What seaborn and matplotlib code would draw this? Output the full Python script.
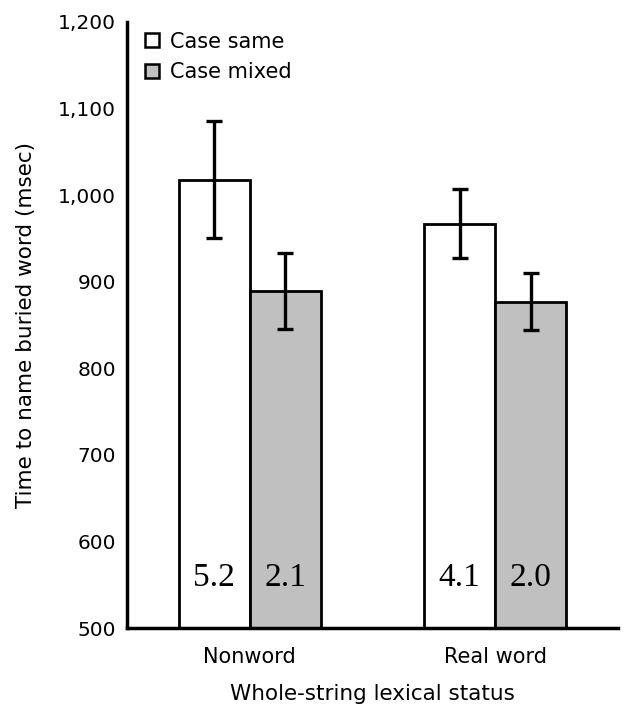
import matplotlib
matplotlib.use("Agg")
import matplotlib.pyplot as plt
import seaborn as sns
import pandas as pd
from matplotlib.patches import Patch

categories = ["Nonword", "Real word"]
conditions = ["Case same", "Case mixed"]
same_means = [1018, 967]
same_err = [68, 40]
mixed_means = [889, 877]
mixed_err = [44, 33]
same_labels = ["5.2", "4.1"]
mixed_labels = ["2.1", "2.0"]
yticks = [500, 600, 700, 800, 900, 1000, 1100, 1200]
ytick_labels = ["500", "600", "700", "800", "900", "1,000", "1,100", "1,200"]

df = pd.DataFrame({
    "status": categories * 2,
    "cond": [conditions[0]] * 2 + [conditions[1]] * 2,
    "rt": same_means + mixed_means,
    "err": same_err + mixed_err,
    "lab": same_labels + mixed_labels,
})

sns.set_style("white")
plt.rcParams["font.family"] = ["DejaVu Sans"]
plt.rcParams["text.color"] = "black"
plt.rcParams["axes.labelcolor"] = "black"

fig = plt.figure(figsize=(6.25, 7.05), dpi=100)
ax = fig.add_axes([0.2032, 0.1092, 0.7856, 0.8596])

colors = {"Case same": "#ffffff", "Case mixed": "#c0c0c0"}
sns.barplot(data=df, x="status", y="rt", hue="cond", order=categories,
            hue_order=conditions, palette=colors, width=0.58, errorbar=None,
            edgecolor="black", linewidth=2.0, ax=ax, legend=False)

# Error bars and in-bar labels placed on seaborn's bar patches
bars = [p for p in ax.patches]
for i, cond in enumerate(conditions):
    sub = df[df["cond"] == cond].set_index("status").loc[categories]
    for j, cat in enumerate(categories):
        p = bars[i * len(categories) + j]
        xc = p.get_x() + p.get_width() / 2
        ax.errorbar(xc, sub.loc[cat, "rt"], yerr=sub.loc[cat, "err"], color="black",
                    elinewidth=2.4, capsize=5.5, capthick=2.4, fmt="none", zorder=5)
        ax.text(xc, 558, sub.loc[cat, "lab"], ha="center", va="center",
                fontsize=24, family=["Liberation Serif", "DejaVu Serif"], color="black")

ax.set_ylim(500, 1200)
ax.set_xlim(-0.5, 1.5)
ax.set_yticks(yticks)
ax.set_yticklabels(ytick_labels)
ax.set_xticks([0, 1])
ax.set_xticklabels(categories)
ax.set_xticks([-0.5, 0.5, 1.5], minor=True)
ax.tick_params(axis="x", which="major", length=0, labelsize=15, pad=14, colors="black")
ax.tick_params(axis="x", which="minor", length=5, width=2.2, direction="out", color="black")
ax.tick_params(axis="y", length=5, width=2.2, direction="out", labelsize=14.5, color="black",
               labelcolor="black", pad=3)

for s in ["top", "right"]:
    ax.spines[s].set_visible(False)
for s in ["left", "bottom"]:
    ax.spines[s].set_linewidth(2.5)
    ax.spines[s].set_color("black")

ax.set_ylabel("Time to name buried word (msec)", fontsize=15.5, color="black")
ax.set_xlabel("Whole-string lexical status", fontsize=15.5, color="black")
ax.yaxis.set_label_coords(-0.185, 0.5)
ax.xaxis.set_label_coords(0.5, -0.092)

handles = [Patch(facecolor=colors[c], edgecolor="black", linewidth=1.8, label=c)
           for c in conditions]
leg = ax.legend(handles=handles, loc="upper left", bbox_to_anchor=(0.02, 0.998), frameon=False,
                fontsize=15, handlelength=0.67, handleheight=0.67, handletextpad=0.5,
                labelspacing=0.5, borderaxespad=0.0, borderpad=0.4)
for t in leg.get_texts():
    t.set_color("black")

fig.savefig("out.png", dpi=100)
